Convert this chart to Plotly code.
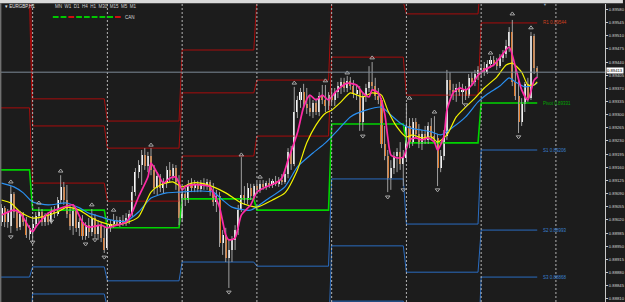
import plotly.graph_objects as go

# ---------------- data (prices in 1e-5 units, EURGBP H1) ----------------
open_pts = [
 89014, 89052, 89014, 89004, 89089, 89041, 89001, 89036, 89020, 88983,
 88999, 89009, 89030, 89041, 89014, 89033, 89014, 89046, 89036, 89073, 89108, 89073, 89036, 89004, 89046, 88999, 89014, 88977, 89006, 88988, 89025, 88983, 89006, 88972,
 88945, 88999, 89009, 89020, 89009, 89020, 89012, 89025, 89036, 89094, 89147, 89166, 89193, 89163, 89190, 89153, 89105, 89137, 89105, 89121, 89153, 89137, 89158, 89121,
 89025, 89089, 89073, 89116, 89105, 89116, 89102, 89118, 89110, 89121, 89094, 89068, 89084, 88959, 88980, 88919, 88940, 88967, 88993, 89046, 89086, 89073, 89105, 89084,
 89110, 89100, 89116, 89108, 89118, 89113, 89124, 89116, 89126, 89121, 89142, 89201, 89169, 89307, 89339, 89360, 89328, 89318, 89307, 89331, 89307, 89350, 89339, 89323,
 89352, 89339, 89360, 89376, 89387, 89371, 89390, 89376, 89355, 89366, 89280, 89350, 89371, 89387, 89376, 89350, 89339, 89222, 89190, 89131, 89158, 89190, 89201, 89169,
 89185, 89270, 89227, 89280, 89249, 89222, 89249, 89233, 89270, 89243, 89238, 89158, 89190, 89243, 89392, 89366, 89360, 89371, 89360, 89366, 89350, 89398, 89387, 89408,
 89419, 89424, 89413, 89435, 89445, 89440, 89429, 89451, 89461, 89483, 89520, 89387, 89350, 89280, 89328, 89382, 89344, 89509, 89424]
high_pts = [
 89062, 89057, 89049, 89110, 89094, 89049, 89044, 89041, 89028, 89006,
 89030, 89041, 89054, 89049, 89038, 89041, 89054, 89057, 89081, 89139, 89121, 89113, 89057, 89060, 89052, 89025, 89033, 89014, 89025, 89049, 89036, 89020, 89014, 89004,
 89009, 89020, 89036, 89030, 89028, 89033, 89038, 89046, 89110, 89158, 89179, 89206, 89211, 89201, 89211, 89166, 89147, 89142, 89131, 89163, 89174, 89169, 89166, 89139,
 89100, 89105, 89126, 89131, 89126, 89124, 89126, 89131, 89129, 89126, 89118, 89100, 89094, 88993, 88999, 88967, 88977, 89006, 89060, 89187, 89110, 89118, 89116, 89116,
 89121, 89126, 89126, 89124, 89131, 89129, 89137, 89134, 89142, 89153, 89211, 89217, 89374, 89350, 89371, 89382, 89371, 89350, 89339, 89344, 89360, 89379, 89379, 89360,
 89371, 89371, 89387, 89398, 89398, 89403, 89400, 89392, 89379, 89376, 89360, 89382, 89429, 89440, 89398, 89371, 89344, 89270, 89206, 89179, 89201, 89211, 89227, 89206,
 89331, 89291, 89291, 89291, 89275, 89259, 89270, 89280, 89291, 89296, 89249, 89206, 89259, 89419, 89413, 89382, 89382, 89387, 89382, 89376, 89408, 89413, 89419, 89429,
 89435, 89440, 89445, 89456, 89456, 89451, 89461, 89472, 89499, 89533, 89552, 89429, 89398, 89344, 89387, 89398, 89520, 89515, 89429]
low_pts = [
 89004, 89001, 88999, 88985, 89025, 88991, 88993, 89004, 88972, 88967,
 88967, 88999, 89014, 89004, 89004, 89006, 89009, 89025, 89030, 89062, 89060, 89025, 88993, 88980, 88988, 88977, 88967, 88967, 88972, 88977, 88972, 88967, 88961, 88932,
 88940, 88988, 88999, 89004, 89001, 89004, 89004, 89009, 89028, 89084, 89131, 89113, 89153, 89147, 89139, 89089, 89086, 89094, 89089, 89105, 89121, 89126, 89100, 89006,
 89014, 89057, 89065, 89094, 89094, 89094, 89094, 89100, 89100, 89084, 89057, 89041, 88948, 88927, 88908, 88839, 88908, 88940, 88980, 89041, 89060, 89062, 89073, 89076,
 89089, 89092, 89100, 89100, 89105, 89105, 89110, 89108, 89113, 89116, 89131, 89153, 89163, 89291, 89318, 89318, 89302, 89296, 89291, 89299, 89296, 89328, 89307, 89312,
 89328, 89323, 89344, 89355, 89360, 89360, 89366, 89344, 89339, 89257, 89257, 89334, 89360, 89366, 89339, 89328, 89211, 89179, 89094, 89100, 89142, 89147, 89153, 89110,
 89174, 89211, 89217, 89238, 89211, 89206, 89222, 89222, 89233, 89227, 89110, 89147, 89179, 89233, 89350, 89339, 89334, 89350, 89328, 89339, 89344, 89376, 89376, 89392,
 89398, 89403, 89408, 89424, 89429, 89419, 89424, 89440, 89451, 89467, 89376, 89339, 89251, 89270, 89307, 89334, 89339, 89408, 89398]
close_pts = [
 89052, 89014, 89041, 89089, 89041, 88999, 89036, 89014, 88980, 88999,
 89009, 89030, 89041, 89014, 89033, 89014, 89046, 89036, 89073, 89108, 89073, 89036, 89004, 89046, 88999, 89014, 88977, 89006, 88988, 89025, 88983, 89006, 88972, 88940,
 88999, 89009, 89020, 89009, 89020, 89012, 89025, 89036, 89094, 89147, 89166, 89193, 89163, 89190, 89153, 89105, 89137, 89105, 89121, 89153, 89137, 89158, 89121, 89025,
 89089, 89073, 89116, 89105, 89116, 89102, 89118, 89110, 89121, 89094, 89068, 89084, 88959, 88980, 88919, 88940, 88967, 88993, 89046, 89086, 89073, 89105, 89084, 89110,
 89100, 89116, 89108, 89118, 89113, 89124, 89116, 89126, 89121, 89142, 89201, 89169, 89307, 89339, 89360, 89328, 89318, 89307, 89331, 89307, 89350, 89339, 89323, 89352,
 89339, 89360, 89376, 89387, 89371, 89390, 89376, 89355, 89366, 89280, 89350, 89371, 89387, 89376, 89350, 89339, 89222, 89190, 89131, 89158, 89190, 89201, 89169, 89185,
 89270, 89227, 89280, 89249, 89222, 89249, 89233, 89270, 89243, 89238, 89158, 89190, 89243, 89392, 89366, 89360, 89371, 89360, 89366, 89350, 89398, 89387, 89408, 89419,
 89424, 89413, 89435, 89445, 89440, 89429, 89451, 89461, 89483, 89520, 89387, 89350, 89280, 89328, 89382, 89344, 89509, 89424, 89413]

# moving averages (bar index, price pts)
ma_fast_bar = [0,4,6,10,11,15,20,23,26,28,32,34,37,40,42,44,47,48,50,52,54,56,58,59,61,64,67,68,70,72,73,75,77,80,82,85,88,90,92,95,97,99,101,103,105,107,109,111,114,116,118,119,121,123,124,125,127,129,131,133,135,137,139,140,142,143,145,147,149,151,153,155,158,160,163,165,167,169,171,172]
ma_fast_pts = [89033,89046,89038,88988,89001,89038,89054,89060,89014,89001,89006,88999,89006,89014,89041,89081,89134,89171,89145,89118,89131,89134,89100,89108,89113,89113,89108,89092,89054,88980,88967,88972,89033,89060,89094,89108,89118,89131,89179,89251,89320,89352,89339,89352,89339,89358,89374,89384,89379,89358,89347,89366,89358,89304,89241,89193,89185,89187,89233,89238,89233,89238,89227,89206,89241,89312,89358,89371,89366,89379,89405,89419,89432,89451,89480,89427,89366,89339,89392,89400]
ma_mid_bar = [0,3,6,10,13,18,21,25,29,32,36,40,44,48,51,55,58,61,64,68,72,77,82,87,91,95,98,101,104,106,109,112,116,119,122,124,127,130,132,135,138,140,143,146,149,152,155,159,162,164,167,169,171,172]
ma_mid_pts = [89073,89065,89041,89025,89028,89041,89054,89046,89025,89014,89006,89012,89028,89094,89113,89121,89108,89118,89118,89108,89092,89065,89054,89073,89092,89153,89225,89273,89304,89312,89334,89358,89347,89358,89352,89312,89267,89241,89246,89238,89241,89227,89246,89294,89320,89344,89371,89400,89432,89437,89413,89379,89379,89387]
ma_slow_bar = [0,4,7,10,15,21,25,28,32,35,40,44,48,53,57,64,68,71,74,80,85,91,95,100,104,108,112,117,122,125,128,131,135,138,141,145,149,153,156,160,163,165,168,171,172]
ma_slow_pts = [89118,89108,89092,89068,89060,89065,89052,89038,89028,89020,89017,89041,89078,89092,89094,89097,89094,89073,89054,89046,89073,89108,89161,89198,89225,89259,89294,89312,89320,89299,89278,89265,89259,89254,89246,89267,89294,89334,89355,89376,89398,89387,89374,89379,89384]

# fractals
frac_up_bar = [3,12,19,29,36,48,77,83,94,104,111,119,131,139,157,164,170]
frac_up_pts = [89121,89065,89150,89060,89046,89219,89193,89134,89384,89390,89411,89451,89344,89307,89464,89568,89531]
frac_dn_bar = [3,10,16,27,30,33,73,116,124,129,140,149,166]
frac_dn_pts = [88975,88961,89017,88956,88967,88921,88828,89243,89081,89100,89100,89326,89241]

# daily pivot levels (one value per day)
day_first_bar = [0, 10, 34, 58, 82, 106, 130, 154]
separator_bar = [10, 34, 58, 82, 106, 130, 154, 178]
pivot_pts = [89153, 89046, 88999, 89076, 89046, 89275, 89225, 89331]
r1_pts = [89318, 89118, 89070, 89190, 89243, 89453, 89352, 89544]
r2_pts = [89602, 89270, 89211, 89358, 89392, 89600, 89568, 89669]
r3_pts = [89767, 89342, 89283, 89472, 89610, 89778, 89695, 89882]
s1_pts = [88868, 88895, 88858, 88908, 88897, 89129, 89009, 89206]
s2_pts = [88703, 88823, 88786, 88794, 88701, 88951, 88881, 88993]
s3_pts = [88419, 88671, 88645, 88626, 88552, 88804, 88666, 88868]

tick_labels = ["0.89580","0.89545","0.89510","0.89475","0.89440","0.89405","0.89370","0.89335",
               "0.89300","0.89265","0.89230","0.89195","0.89160","0.89125","0.89090","0.89055",
               "0.89020","0.88985","0.88950","0.88915","0.88880","0.88845","0.88810"]
bid_pts = 89413

# ---------------- build ----------------
n = min(len(open_pts), len(high_pts), len(low_pts), len(close_pts))
bars = list(range(n))
O = [v / 1e5 for v in open_pts[:n]]
Hh = [v / 1e5 for v in high_pts[:n]]
L = [v / 1e5 for v in low_pts[:n]]
C = [v / 1e5 for v in close_pts[:n]]

PW, PT, PH = 607.0, 4.0, 298.0
def px(x): return x / PW
def py(y): return 1 - (y - PT) / PH

FONT = "Liberation Sans, Arial, sans-serif"
fig = go.Figure()

def day_index(i):
    d = 0
    for k, b in enumerate(day_first_bar):
        if i >= b:
            d = k
    return d

lvl_x = [-1] + bars
def level_series(vals):
    return [vals[day_index(max(i, 0))] / 1e5 for i in lvl_x]

RED = "#a80c0c"
BLUE = "#2a6cc0"
GREEN = "#00d400"
for vals in (r3_pts, r2_pts, r1_pts):
    fig.add_trace(go.Scatter(x=lvl_x, y=level_series(vals), mode="lines",
                             line=dict(color=RED, width=1), hoverinfo="skip"))
for vals in (s1_pts, s2_pts, s3_pts):
    fig.add_trace(go.Scatter(x=lvl_x, y=level_series(vals), mode="lines",
                             line=dict(color=BLUE, width=1), hoverinfo="skip"))
fig.add_trace(go.Scatter(x=lvl_x, y=level_series(pivot_pts), mode="lines",
                         line=dict(color=GREEN, width=1.6), hoverinfo="skip"))

# wicks
wx, wy = [], []
for i in bars:
    wx += [i, i, None]
    wy += [L[i], Hh[i], None]
fig.add_trace(go.Scatter(x=wx, y=wy, mode="lines", line=dict(color="#a0a0a0", width=1),
                         hoverinfo="skip"))
# bodies
bx = [i for i in bars if C[i] >= O[i]]
fig.add_trace(go.Bar(x=bx, y=[C[i] - O[i] for i in bx], base=[O[i] for i in bx], width=0.66,
                     marker=dict(color="#ffffff", line=dict(width=0))))
sx = [i for i in bars if C[i] < O[i]]
fig.add_trace(go.Bar(x=sx, y=[O[i] - C[i] for i in sx], base=[C[i] for i in sx], width=0.66,
                     marker=dict(color="#e8761e", line=dict(width=0))))

# moving averages
fig.add_trace(go.Scatter(x=ma_slow_bar, y=[v / 1e5 for v in ma_slow_pts], mode="lines",
                         line=dict(color="#2a8ff0", width=1.2, shape="spline", smoothing=0.6)))
fig.add_trace(go.Scatter(x=ma_mid_bar, y=[v / 1e5 for v in ma_mid_pts], mode="lines",
                         line=dict(color="#f4f400", width=1.2, shape="spline", smoothing=0.6)))
fig.add_trace(go.Scatter(x=ma_fast_bar, y=[v / 1e5 for v in ma_fast_pts], mode="lines",
                         line=dict(color="#ff2aa6", width=1.7, shape="spline", smoothing=0.6)))

# fractals
fig.add_trace(go.Scatter(x=frac_up_bar, y=[v / 1e5 for v in frac_up_pts], mode="markers",
                         marker=dict(symbol="triangle-up-open", size=4, color="#a8a8a8",
                                     line=dict(width=1, color="#a8a8a8"))))
fig.add_trace(go.Scatter(x=frac_dn_bar, y=[v / 1e5 for v in frac_dn_pts], mode="markers",
                         marker=dict(symbol="triangle-down-open", size=4, color="#a8a8a8",
                                     line=dict(width=1, color="#a8a8a8"))))

shapes = []
for b in separator_bar:
    shapes.append(dict(type="line", xref="x", yref="paper", x0=b, x1=b, y0=0, y1=1,
                       line=dict(color="#b4b4b4", width=1, dash="2px,2px"), layer="above"))
shapes.append(dict(type="line", xref="paper", yref="y", x0=0, x1=1, y0=bid_pts / 1e5, y1=bid_pts / 1e5,
                   line=dict(color="#7d8b98", width=1)))
# window frame strips
shapes.append(dict(type="rect", xref="paper", yref="paper", x0=px(0), x1=px(625), y0=py(3.2), y1=py(0),
                   fillcolor="#dadada", line=dict(width=0), layer="above"))
shapes.append(dict(type="rect", xref="paper", yref="paper", x0=px(0), x1=px(1.4), y0=0, y1=py(3),
                   fillcolor="#707070", line=dict(width=0), layer="above"))
# indicator legend dashes
dash_cols = ["#00c800", "#00c800", "#d01010", "#00c800", "#00c800", "#00c800", "#00c800", "#00c800", "#d01010"]
for k, col in enumerate(dash_cols):
    x0 = 53 + k * 7.8
    shapes.append(dict(type="line", xref="paper", yref="paper", x0=px(x0), x1=px(x0 + 5.8),
                       y0=py(17), y1=py(17), line=dict(color=col, width=2)))

annotations = [
    dict(xref="paper", yref="paper", x=px(3), y=py(6.5), text="▾ EURGBP,H1", showarrow=False,
         xanchor="left", yanchor="middle", font=dict(size=4.5, color="#e6e6e6", family=FONT)),
    dict(xref="paper", yref="paper", x=px(53), y=py(6.5), text="MN  W1  D1  H4  H1  M30  M15  M5  M1",
         showarrow=False, xanchor="left", yanchor="middle", font=dict(size=4.5, color="#cfcfcf", family=FONT)),
    dict(xref="paper", yref="paper", x=px(123), y=py(17), text="CAN", showarrow=False,
         xanchor="left", yanchor="middle", font=dict(size=4.5, color="#d8d8d8", family=FONT)),
    dict(xref="paper", yref="paper", x=px(547), y=py(4.5), text="▼", showarrow=False,
         xanchor="center", yanchor="middle", font=dict(size=4, color="#8aa0b8", family=FONT)),
    dict(xref="paper", yref="y", x=px(608), y=bid_pts / 1e5, yshift=2, text="%.5f" % (bid_pts / 1e5),
         showarrow=False, xanchor="left", yanchor="middle", bgcolor="#ffffff", borderpad=0,
         font=dict(size=4.2, color="#000000", family=FONT)),
]
last = len(day_first_bar) - 1
lab_x = n + 0.3
for name, vals, col in (("R1", r1_pts, "#d0401e"), ("Pivot", pivot_pts, "#00a800"),
                        ("S1", s1_pts, "#3a80d0"), ("S2", s2_pts, "#3a80d0"), ("S3", s3_pts, "#3a80d0")):
    annotations.append(dict(xref="x", yref="y", x=lab_x, y=vals[last] / 1e5,
                            text="%s %.5f" % (name, vals[last] / 1e5), showarrow=False,
                            xanchor="left", yanchor="middle", font=dict(size=4.5, color=col, family=FONT)))

y_top = (89605 - 2.66 * PT) / 1e5
y_bot = (89605 - 2.66 * 302) / 1e5
fig.update_layout(
    width=625, height=302, margin=dict(l=0, r=18, t=4, b=0),
    paper_bgcolor="#1c1c1c", plot_bgcolor="#1c1c1c",
    showlegend=False, barmode="overlay", bargap=0,
    shapes=shapes, annotations=annotations,
    xaxis=dict(range=[-0.48, 193.76], showgrid=False, zeroline=False, showticklabels=False,
               showline=False, fixedrange=True),
    yaxis=dict(range=[y_bot, y_top], side="right", showgrid=False, zeroline=False,
               tickvals=[float(t) for t in tick_labels], ticktext=tick_labels,
               ticks="outside", ticklen=2, tickcolor="#c8c8c8",
               showline=True, linecolor="#c8c8c8", linewidth=1,
               tickfont=dict(size=4.2, color="#d6d6d6", family=FONT)),
)
fig.write_html("out.html")
